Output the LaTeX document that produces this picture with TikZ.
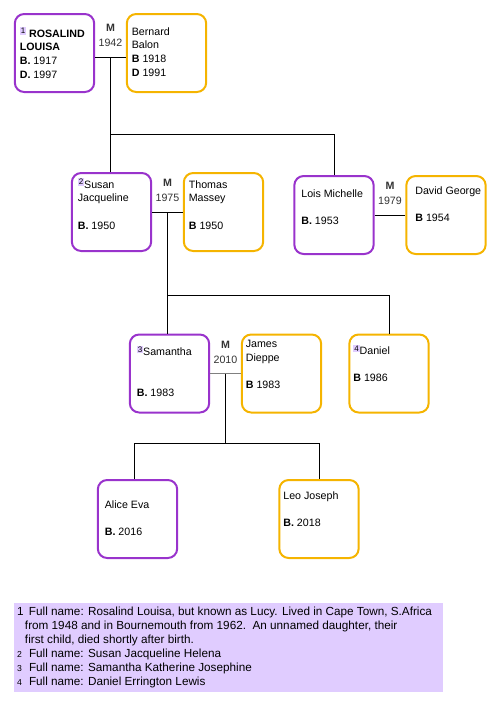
\documentclass[tikz,border=0pt]{standalone}
\usepackage{fontspec}
\setmainfont{Liberation Sans}
\usepackage{tikz}
\definecolor{famPurple}{RGB}{153,51,204}
\definecolor{famAmber}{RGB}{245,180,0}
\definecolor{famLilac}{RGB}{224,204,255}
\newcommand{\fnmark}[1]{\raisebox{2.4pt}{\setlength{\fboxsep}{0.7pt}\colorbox{famLilac}{\fontsize{6}{6}\selectfont #1}}}
\newcommand{\card}[3]{\parbox[c][58.5pt][t]{59.5pt}{\leftskip=#1\relax\rule{0pt}{#2}#3}}
\newcommand{\oldnum}[1]{{\fontsize{6.5}{7}\selectfont #1}}
\newcommand{\noteline}[2]{\hbox to \hsize{\hspace*{2.25pt}\makebox[9pt][l]{#1}#2\hfil}}

\begin{document}
\begin{tikzpicture}[x=0.75pt,y=-0.75pt,node distance=84pt,
  box node/.style={rectangle,rounded corners=7pt,line width=1.5pt,
  fill=white,minimum width=59.5pt,minimum height=58.5pt,inner sep=0pt,
  font=\fontsize{8}{10.3}\selectfont},
  purple node/.style={box node,draw=famPurple},
  amber node/.style={box node,draw=famAmber},
  wed node/.style={font=\fontsize{8}{11.25}\selectfont,text=black!80,
  align=center,inner sep=0pt,above=7.5pt},
  link/.style={draw,line width=0.75pt}]

  \useasboundingbox (0,0) rectangle (502,708);

  % first generation
  \node[purple node] (ros) at (54.5,53) {\card{3.75pt}{17.25pt}{\fnmark{1} \textbf{ROSALIND}\\\textbf{LOUISA}\\\textbf{B.} 1917\\\textbf{D.} 1997}};
  \node[amber node] (ber) [right of=ros] {\card{3.75pt}{15.75pt}{Bernard\\Balon\\\textbf{B} 1918\\\textbf{D} 1991}};

  % second generation
  \node[purple node] (sus) at (111.5,212) {\card{4.5pt}{11.25pt}{\fnmark{2}Susan\\Jacqueline\\[\baselineskip]\textbf{B.} 1950}};
  \node[amber node] (tho) [right of=sus] {\card{3.75pt}{11.25pt}{Thomas\\Massey\\[\baselineskip]\textbf{B} 1950}};
  \node[purple node] (loi) at (334,215) {\card{5.25pt}{15.75pt}{Lois Michelle\\[\baselineskip]\textbf{B.} 1953}};
  \node[amber node] (dav) [right of=loi] {\card{6.75pt}{13.5pt}{David George\\[\baselineskip]\textbf{B} 1954}};

  % third generation
  \node[purple node] (sam) at (169.5,373.5) {\card{5.25pt}{15.75pt}{\fnmark{3}Samantha\\[2\baselineskip]\textbf{B.} 1983}};
  \node[amber node] (jam) [right of=sam] {\card{3pt}{9.75pt}{James\\Dieppe\\[\baselineskip]\textbf{B} 1983}};
  \node[amber node] (dan) at (389,373.5) {\card{3pt}{15pt}{\fnmark{4}Daniel\\[\baselineskip]\textbf{B} 1986}};

  % fourth generation
  \node[purple node] (ali) at (137.5,519) {\card{5.25pt}{21pt}{Alice Eva\\[\baselineskip]\textbf{B.} 2016}};
  \node[amber node] (leo) at (319,519) {\card{3pt}{14.25pt}{Leo Joseph\\[\baselineskip]\textbf{B.} 2018}};

  % marriages
  \draw[link] ([yshift=-3pt]ros.east) -- coordinate (m1) ([yshift=-3pt]ber.west);
  \draw[link] (sus.east) -- coordinate (m2) (tho.west);
  \draw[link] (loi.east) -- coordinate (m4) (dav.west);
  \draw[link,draw=gray] (sam.east) -- coordinate (m3) (jam.west);
  \node[wed node] at (m1) {\textbf{M}\\1942};
  \node[wed node] at (m2) {\textbf{M}\\1975};
  \node[wed node] at (m4) {\textbf{M}\\1979};
  \node[wed node] at (m3) {\textbf{M}\\2010};

  % children
  \path (m1) ++(0,77) coordinate (b1);
  \path (m2) ++(0,83) coordinate (b2);
  \path (m3) ++(0,70) coordinate (b3);
  \draw[link] (m1) -- (m1 |- sus.north);
  \draw[link] (b1) -| (loi.north);
  \draw[link] (m2) -- (m2 |- sam.north);
  \draw[link] (b2) -| (dan.north);
  \draw[link] (m3) -- (b3);
  \draw[link] (b3) -| ([xshift=-2.6pt]ali.north);
  \draw[link] (b3) -| (leo.north);

  % footnotes
  \node[fill=famLilac,inner sep=0pt,minimum width=321.75pt,minimum height=66.75pt] (notes) at (228.5,647.5)
    {\parbox[c][66.75pt][t]{321.75pt}{\fontsize{8.8}{10.5}\selectfont
    \noteline{1}{\rule{0pt}{9pt}Full name: Rosalind Louisa, but known as Lucy. Lived in Cape Town, S.Africa}
    \noteline{}{\hspace*{-3pt}from 1948 and in Bournemouth from 1962.\ \ An unnamed daughter, their}
    \noteline{}{\hspace*{-3pt}first child, died shortly after birth.}
    \noteline{\oldnum{2}}{Full name: Susan Jacqueline Helena}
    \noteline{\oldnum{3}}{Full name: Samantha Katherine Josephine}
    \noteline{\oldnum{4}}{Full name: Daniel Errington Lewis}}};

\end{tikzpicture}
\end{document}
